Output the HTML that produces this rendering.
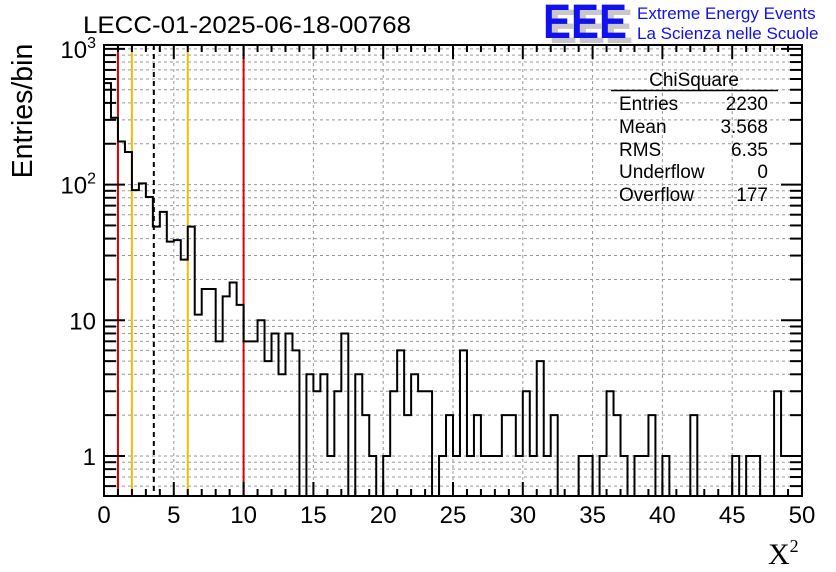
<!DOCTYPE html>
<html><head><meta charset="utf-8"><style>
html,body{margin:0;padding:0;background:#fff;}
svg{display:block;font-family:"Liberation Sans",sans-serif;}
</style></head><body>
<svg id="chart" width="836" height="572" viewBox="0 0 836 572" xmlns="http://www.w3.org/2000/svg">
<g id="grid"></g>
<g id="refs"></g>
<g id="hist"></g>
<g id="axes"></g>
<text x="83" y="33" font-size="24.5" textLength="328" lengthAdjust="spacingAndGlyphs">LECC-01-2025-06-18-00768</text>
<g>
<text x="549" y="43" font-size="48" font-weight="bold" fill="#c8c8c8" textLength="84" lengthAdjust="spacingAndGlyphs">EEE</text>
<text x="543" y="38" font-size="48" font-weight="bold" fill="#1010f0" textLength="84" lengthAdjust="spacingAndGlyphs">EEE</text>
<text x="637" y="19" font-size="17" fill="#1010f0">Extreme Energy Events</text>
<text x="637" y="39" font-size="17" fill="#1010f0">La Scienza nelle Scuole</text>
</g>
<g font-size="19">
<text x="694" y="86" text-anchor="middle">ChiSquare</text>
<line x1="611" y1="90.5" x2="778" y2="90.5" stroke="#000" stroke-width="1.5"/>
<text x="619" y="110">Entries</text><text x="768" y="110" text-anchor="end">2230</text>
<text x="619" y="133">Mean</text><text x="768" y="133" text-anchor="end">3.568</text>
<text x="619" y="156">RMS</text><text x="768" y="156" text-anchor="end">6.35</text>
<text x="619" y="178">Underflow</text><text x="768" y="178" text-anchor="end">0</text>
<text x="619" y="201">Overflow</text><text x="768" y="201" text-anchor="end">177</text>
</g>
<text transform="translate(32,111) rotate(-90)" text-anchor="middle" font-size="28.5">Entries/bin</text>
<text x="768" y="564" font-size="30" font-family="Liberation Serif, serif">X<tspan dy="-12" font-size="18">2</tspan></text>
</svg>
<script>
const counts = [560,311,208,174,91,102,81,49,63,38,39,28,49,11,17,17,7,15,19,13,
7,7,10,5,8,4,8,6,0,4,3,4,1,3,8,0,4,2,1,0,
1,3,6,2,4,3,3,0,1,2,1,6,1,2,1,1,1,2,2,1,
3,1,5,1,2,0,0,0,1,1,0,1,3,2,1,0,1,1,2,0,
1,0,0,0,2,0,0,0,0,0,1,0,1,1,0,0,3,1,1,1];
const xTicks = [0,5,10,15,20,25,30,35,40,45,50];
const yDecades = [1,10,100,1000];
const yDecadeBase = ["1","10","10","10"];
const yDecadeExp = ["","","2","3"];
const redLines = [1,10];
const goldLines = [2,6];
const meanValue = 3.568;
const binWidth = 0.5;

const X0=104,X1=802,Y0=496,Y1=45,XMIN=0,XMAX=50,YMIN=0.5;
const DEC=135.7, YREF=456;
const sx=v=>X0+(v-XMIN)/(XMAX-XMIN)*(X1-X0);
const sy=v=>Math.max(Y1,Math.min(Y0, v<=0?Y0:YREF-DEC*Math.log10(v)));
const NS="http://www.w3.org/2000/svg";
function mk(tag,attrs,parent){const e=document.createElementNS(NS,tag);for(const k in attrs)e.setAttribute(k,attrs[k]);parent.appendChild(e);return e;}
const grid=document.getElementById('grid'),refs=document.getElementById('refs'),hist=document.getElementById('hist'),axes=document.getElementById('axes');

xTicks.forEach(t=>{if(t>XMIN&&t<XMAX){const l=mk('line',{x1:sx(t),x2:sx(t),y1:Y1,y2:Y0,stroke:'#999','stroke-dasharray':'3,3','stroke-width':1},grid);

}});
for(let d=0.1;d<=1000;d*=10){for(let m=1;m<10;m++){const v=d*m;if(v<YMIN||v>1070)continue;const y=sy(v);
const l=mk('line',{x1:X0,x2:X1,y1:y,y2:y,stroke:'#999','stroke-dasharray':'3,3','stroke-width':1},grid);

}}

redLines.forEach(v=>{const l=mk('line',{x1:sx(v),x2:sx(v),y1:Y1,y2:Y0,stroke:'#e00000','stroke-width':2},refs);

});
goldLines.forEach(v=>{const l=mk('line',{x1:sx(v),x2:sx(v),y1:Y1,y2:Y0,stroke:'#f0c000','stroke-width':2},refs);

});
{const l=mk('line',{x1:sx(meanValue),x2:sx(meanValue),y1:Y1,y2:Y0,stroke:'#000','stroke-width':2,'stroke-dasharray':'5,4'},refs);

}

let d=`M${sx(0)},${Y0}`;
counts.forEach((c,i)=>{const y=sy(c);d+=` L${sx(i*binWidth)},${y} L${sx((i+1)*binWidth)},${y}`;});
d+=` L${sx(counts.length*binWidth)},${Y0}`;
const hp=mk('path',{d:d,fill:'none',stroke:'#000','stroke-width':2},hist);



const fr=mk('rect',{x:X0,y:Y1,width:X1-X0,height:Y0-Y1,fill:'none',stroke:'#000','stroke-width':2},axes);


for(let t=XMIN;t<=XMAX;t+=1){const major=t%5===0;const len=major?14:7;const x=sx(t);
mk('line',{x1:x,x2:x,y1:Y0,y2:Y0-len,stroke:'#000','stroke-width':2},axes);
mk('line',{x1:x,x2:x,y1:Y1,y2:Y1+len,stroke:'#000','stroke-width':2},axes);}
xTicks.forEach(t=>{const tx=mk('text',{x:sx(t),y:523,'text-anchor':'middle','font-size':24},axes);tx.textContent=t;

});
for(let dd=0.1;dd<=1000;dd*=10){for(let m=1;m<10;m++){const v=dd*m;if(v<YMIN||v>1070)continue;const y=sy(v);const len=m===1?21:12;
mk('line',{x1:X0,x2:X0+len,y1:y,y2:y,stroke:'#000','stroke-width':2},axes);
mk('line',{x1:X1,x2:X1-len,y1:y,y2:y,stroke:'#000','stroke-width':2},axes);}}
yDecades.forEach((v,i)=>{const tx=mk('text',{x:96,y:sy(v)+9,'text-anchor':'end','font-size':24},axes);


const b=mk('tspan',{},tx);b.textContent=yDecadeBase[i];
if(yDecadeExp[i]){const e=mk('tspan',{dy:-10,'font-size':16},tx);e.textContent=yDecadeExp[i];}});
</script>
</body></html>
